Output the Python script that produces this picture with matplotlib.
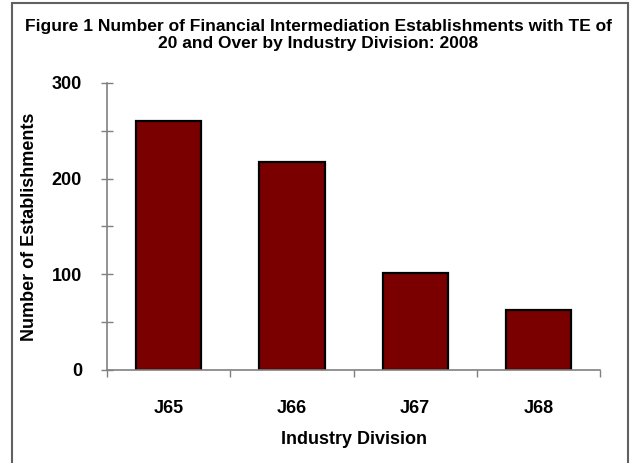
import numpy as np
import matplotlib.pyplot as plt
from matplotlib.patches import Rectangle
from matplotlib.ticker import MultipleLocator, FixedLocator

divisions = ['J65', 'J66', 'J67', 'J68']
establishments = [260, 217, 101, 63]

plt.rcParams['font.family'] = ['Liberation Sans Narrow', 'Liberation Sans', 'DejaVu Sans']

fig = plt.figure(figsize=(6.33, 4.63), dpi=100)
ax = fig.add_axes([0.169, 0.201, 0.779, 0.620])

x = np.arange(len(divisions))
ax.bar(x, establishments, width=0.53, color='#7a0000', edgecolor='black', linewidth=1.6)

ax.set_xlim(-0.5, len(divisions) - 0.5)
ax.set_ylim(0, 300)

# y ticks: majors every 100, minors every 50
ax.yaxis.set_major_locator(MultipleLocator(100))
ax.yaxis.set_minor_locator(MultipleLocator(50))
ax.tick_params(axis='y', which='both', direction='inout', length=8, width=1, color='#808080')
ax.tick_params(axis='y', labelsize=13, pad=14)

# x: labels at centres, tick marks at category boundaries
ax.set_xticks(x)
ax.set_xticklabels(divisions)
ax.tick_params(axis='x', which='major', length=0, labelsize=13, pad=22)
ax.xaxis.set_minor_locator(FixedLocator(np.arange(-0.5, len(divisions), 1.0)))
ax.tick_params(axis='x', which='minor', direction='out', length=5, width=1, color='#808080')

for lbl in ax.get_xticklabels() + ax.get_yticklabels():
    lbl.set_fontweight('bold')

for side in ['top', 'right']:
    ax.spines[side].set_visible(False)
for side in ['left', 'bottom']:
    ax.spines[side].set_color('#808080')
    ax.spines[side].set_linewidth(1.2)

ax.set_xlabel('Industry Division', fontsize=13, fontweight='bold', labelpad=10)
ax.set_ylabel('Number of Establishments', fontsize=13, fontweight='bold', labelpad=10)

fig.text(0.503, 0.924, 'Figure 1 Number of Financial Intermediation Establishments with TE of\n'
         '20 and Over by Industry Division: 2008',
         ha='center', va='center', fontsize=12.5, fontweight='bold', linespacing=1.2)

# outer frame
fig.patches.append(Rectangle((12 / 633, -0.05), 616 / 633, 1.05 - 3 / 463, transform=fig.transFigure,
                             fill=False, edgecolor='#606060', linewidth=1.5))

fig.savefig('out.png', dpi=100)
